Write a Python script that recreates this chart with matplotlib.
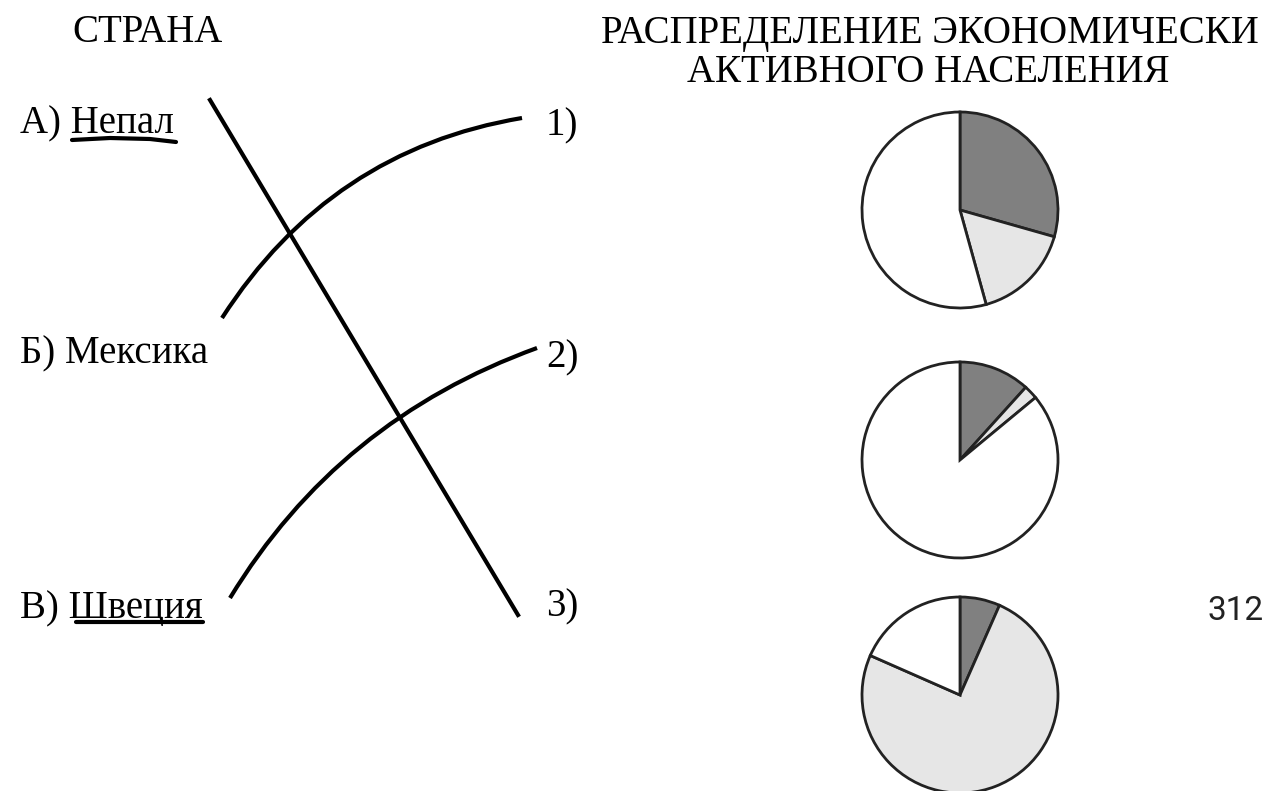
import matplotlib.pyplot as plt
from matplotlib.path import Path
from matplotlib.patches import PathPatch

# shares of economically active population (%) - dark / light / white
pie1 = [29.4, 16.3, 54.3]
pie2 = [11.7, 2.3, 86.0]
pie3 = [6.6, 75.0, 18.4]
pies = [pie1, pie2, pie3]
sector_colors = ['#808080', '#e6e6e6', '#ffffff']

countries = ['А) Непал', 'Б) Мексика', 'В) Швеция']
numbers = ['1)', '2)', '3)']
answer = '312'

W, H = 1268, 791


def Y(y):
    # image pixel row -> data y
    return H - y


fig = plt.figure(figsize=(12.68, 7.91), dpi=100)
ax = fig.add_axes([0, 0, 1, 1])
ax.set_xlim(0, W)
ax.set_ylim(0, H)
ax.axis('off')

serif = 'Liberation Serif'
fs = 28

ax.text(148, Y(33), 'СТРАНА', fontsize=fs, family=serif, ha='center', va='center')
ax.text(930, Y(33), 'РАСПРЕДЕЛЕНИЕ ЭКОНОМИЧЕСКИ', fontsize=fs, family=serif,
        ha='center', va='center')
ax.text(928, Y(73), 'АКТИВНОГО НАСЕЛЕНИЯ', fontsize=fs, family=serif,
        ha='center', va='center')

label_y = [124, 354, 609]
for lab, yy in zip(countries, label_y):
    ax.text(20, Y(yy), lab, fontsize=fs, family=serif, ha='left', va='center')

num_y = [126, 358, 607]
for lab, yy in zip(numbers, num_y):
    ax.text(546, Y(yy), lab, fontsize=fs, family=serif, ha='left', va='center')

# underlines
ax.plot([72, 110, 150, 176], [Y(140), Y(138), Y(139), Y(142)], color='black', lw=3,
        solid_capstyle='round')
ax.plot([76, 203], [Y(622), Y(622)], color='black', lw=3, solid_capstyle='round')

# connecting lines
ax.plot([210, 518], [Y(100), Y(615)], color='black', lw=3)
for p0, c, p2 in [((222, 318), (330, 150), (522, 118)),
                  ((230, 598), (338, 420), (537, 348))]:
    verts = [(p0[0], Y(p0[1])), (c[0], Y(c[1])), (p2[0], Y(p2[1]))]
    path = Path(verts, [Path.MOVETO, Path.CURVE3, Path.CURVE3])
    ax.add_patch(PathPatch(path, fill=False, lw=3, edgecolor='black'))

# pies
centers = [(960, 210), (960, 460), (960, 695)]
for vals, (cx, cy) in zip(pies, centers):
    ax.pie(vals, colors=sector_colors, startangle=90, counterclock=False,
           center=(cx, Y(cy)), radius=98,
           wedgeprops=dict(edgecolor='#222222', linewidth=2))

ax.set_xlim(0, W)
ax.set_ylim(0, H)
ax.set_aspect('auto')

ax.text(1236, Y(611), answer, fontsize=24, family='Roboto',
        color='#222222', ha='center', va='center')

fig.savefig('out.png', dpi=100, facecolor='white')
